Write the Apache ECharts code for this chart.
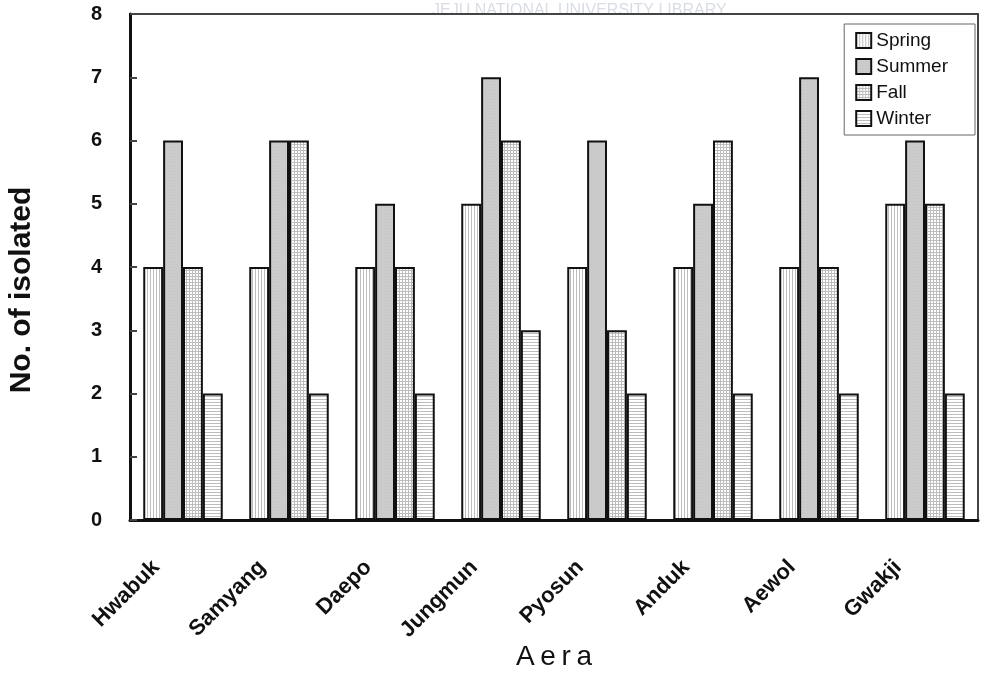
<!DOCTYPE html>
<html>
<head>
<meta charset="utf-8">
<script src="https://cdn.jsdelivr.net/npm/echarts@6/dist/echarts.min.js"></script>
<style>
  html, body { margin: 0; padding: 0; background: #fff; }
  #chart { width: 981px; height: 673px; }
</style>
</head>
<body>
<div id="chart"></div>
<script>
const areas = ['Hwabuk', 'Samyang', 'Daepo', 'Jungmun', 'Pyosun', 'Anduk', 'Aewol', 'Gwakji'];
const spring = [4, 4, 4, 5, 4, 4, 4, 5];
const summer = [6, 6, 5, 7, 6, 5, 7, 6];
const fall = [4, 6, 4, 6, 3, 6, 4, 5];
const winter = [2, 2, 2, 3, 2, 2, 2, 2];
const yTicks = [0, 1, 2, 3, 4, 5, 6, 7, 8];

// hatch fills drawn on tiny canvases
function hatch(kind) {
  const c = document.createElement('canvas');
  c.width = 3; c.height = 3;
  const ctx = c.getContext('2d');
  ctx.fillStyle = kind === 'summer' ? '#cbcbcb' : '#ffffff';
  ctx.fillRect(0, 0, 3, 3);
  ctx.fillStyle = '#bdbdbd';
  if (kind === 'spring' || kind === 'fall') ctx.fillRect(0, 0, 1, 3);
  if (kind === 'winter' || kind === 'fall') ctx.fillRect(0, 0, 3, 1);
  if (kind === 'summer') { ctx.fillStyle = '#c4c4c4'; ctx.fillRect(0, 0, 1, 1); }
  return { image: c, repeat: 'repeat' };
}

function makeSeries(name, data, kind) {
  return {
    name: name,
    type: 'bar',
    data: data,
    barGap: '0%',
    barCategoryGap: '25%',
    itemStyle: { color: hatch(kind), borderColor: '#111', borderWidth: 2 }
  };
}

const chart = echarts.init(document.getElementById('chart'));
chart.setOption({
  animation: false,
  graphic: [{
    type: 'text', left: 432, top: 3, z: -1,
    style: { text: 'JEJU NATIONAL UNIVERSITY LIBRARY', font: '16px Arial', fill: '#d8dde5' }
  }],
  grid: {
    left: 130, right: 3, top: 14, bottom: 153,
    outerBoundsMode: 'none',
    containLabel: false,
    show: true, borderColor: '#444', borderWidth: 2
  },
  legend: {
    orient: 'vertical',
    right: 6, top: 24,
    backgroundColor: '#fff',
    borderColor: '#666', borderWidth: 1,
    padding: [7, 27, 7, 11],
    itemWidth: 15, itemHeight: 15,
    itemGap: 7,
    icon: 'rect',
    textStyle: { fontFamily: 'Arial', fontSize: 19, color: '#111' },
    data: ['Spring', 'Summer', 'Fall', 'Winter']
  },
  xAxis: {
    type: 'category',
    data: areas,
    name: 'A\u2009e\u2009r\u2009a',
    nameLocation: 'middle',
    nameGap: 123,
    nameMoveOverlap: false,
    nameTextStyle: { fontFamily: 'Arial', fontSize: 28, color: '#111' },
    axisLine: { lineStyle: { color: '#111', width: 3 } },
    axisTick: { inside: true, length: 6, lineStyle: { color: '#111', width: 1 } },
    axisLabel: {
      rotate: 45, margin: 17, interval: 0,
      padding: [0, 38, 0, 0],
      fontFamily: 'Arial', fontWeight: 'bold', fontSize: 22, color: '#111'
    }
  },
  yAxis: {
    type: 'value',
    min: 0, max: 8, interval: 1,
    name: 'No. of isolated',
    nameLocation: 'middle',
    nameGap: 93,
    nameMoveOverlap: false,
    nameTextStyle: {
      fontFamily: 'Arial', fontWeight: 'bold', fontSize: 30, color: '#111',
      padding: [0, 46, 0, 0]
    },
    axisLine: { show: true, lineStyle: { color: '#111', width: 3 } },
    axisTick: { show: true, inside: true, length: 7, lineStyle: { color: '#444', width: 2 } },
    splitLine: { show: false },
    axisLabel: {
      margin: 28,
      fontFamily: 'Arial', fontWeight: 'bold', fontSize: 20, color: '#111',
      formatter: v => (yTicks.includes(v) ? String(v) : '')
    }
  },
  series: [
    makeSeries('Spring', spring, 'spring'),
    makeSeries('Summer', summer, 'summer'),
    makeSeries('Fall', fall, 'fall'),
    makeSeries('Winter', winter, 'winter')
  ]
});
</script>
</body>
</html>
